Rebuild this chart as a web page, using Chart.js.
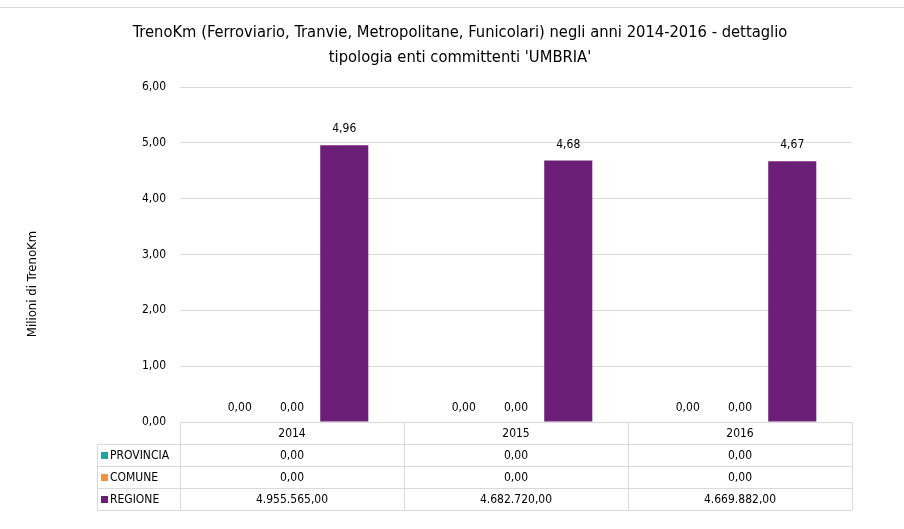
<!DOCTYPE html>
<html>
<head>
<meta charset="utf-8">
<script src="https://cdn.jsdelivr.net/npm/chart.js@4.4.0/dist/chart.umd.min.js"></script>
<style>
  html, body { margin: 0; padding: 0; background: #fff; }
  #wrap { width: 904px; height: 529px; position: relative; }
</style>
</head>
<body>
<div id="wrap"><canvas id="grafico" width="904" height="529"></canvas></div>
<script>
// dati
var anni = ['2014', '2015', '2016'];
var serie = ['PROVINCIA', 'COMUNE', 'REGIONE'];
var provincia = [0, 0, 0];
var comune = [0, 0, 0];
var regione = [4955565, 4682720, 4669882];
var tickY = ['0,00', '1,00', '2,00', '3,00', '4,00', '5,00', '6,00'];
var colori = ['#1fa5a1', '#f7923a', '#6c1f77'];

var FONT = '"Liberation Sans Narrow", "DejaVu Sans Condensed", sans-serif';

function formatta(n, dec) {
  var s = n.toFixed(dec);
  var p = s.split('.');
  var intero = p[0].replace(/\B(?=(\d{3})+(?!\d))/g, '.');
  return dec > 0 ? intero + ',' + p[1] : intero;
}

var valori = [provincia, comune, regione];

var pluginTabella = {
  id: 'tabella',
  afterDraw: function (chart) {
    var ctx = chart.ctx;
    var area = chart.chartArea;
    var x = chart.scales.x;
    var rowH = 22;
    var leftCol = area.left - 83;
    ctx.save();

    // titolo
    ctx.fillStyle = '#000';
    ctx.textAlign = 'center';
    ctx.textBaseline = 'middle';
    ctx.font = '16.4px ' + FONT;
    ctx.fillText("TrenoKm (Ferroviario, Tranvie, Metropolitane, Funicolari) negli anni 2014-2016 - dettaglio", 460, 33);
    ctx.fillText("tipologia enti committenti 'UMBRIA'", 460, 58);

    // titolo asse y
    ctx.save();
    ctx.translate(33, 284);
    ctx.rotate(-Math.PI / 2);
    ctx.font = '13px ' + FONT;
    ctx.fillText('Milioni di TrenoKm', 0, 0);
    ctx.restore();

    // bordo superiore
    ctx.strokeStyle = '#d9d9d9';
    ctx.lineWidth = 1;
    ctx.beginPath();
    ctx.moveTo(0, 7.5);
    ctx.lineTo(904, 7.5);
    ctx.stroke();

    // etichette dati
    ctx.font = '12px ' + FONT;
    ctx.textBaseline = 'bottom';
    chart.data.datasets.forEach(function (ds, i) {
      var meta = chart.getDatasetMeta(i);
      meta.data.forEach(function (bar, j) {
        ctx.fillText(formatta(ds.data[j], 2), bar.x, bar.y - (ds.data[j] > 0 ? 10 : 8));
      });
    });

    // griglia tabella
    var bordi = [area.left];
    for (var k = 0; k < anni.length; k++) {
      bordi.push((x.getPixelForValue(k) + (k < anni.length - 1 ? x.getPixelForValue(k + 1) : x.right + (x.right - x.getPixelForValue(k)))) / 2);
    }
    bordi[bordi.length - 1] = area.right;
    var top = area.bottom;
    ctx.strokeStyle = '#d9d9d9';
    ctx.beginPath();
    for (var r = 1; r <= serie.length + 1; r++) {
      var yy = Math.round(top + r * rowH) + 0.5;
      ctx.moveTo(leftCol, yy);
      ctx.lineTo(area.right, yy);
    }
    bordi.forEach(function (bx) {
      var xx = Math.round(bx) + 0.5;
      ctx.moveTo(xx, top);
      ctx.lineTo(xx, top + (serie.length + 1) * rowH);
    });
    ctx.moveTo(leftCol + 0.5, top + rowH);
    ctx.lineTo(leftCol + 0.5, top + (serie.length + 1) * rowH);
    ctx.stroke();

    // intestazioni anni
    ctx.textBaseline = 'middle';
    ctx.textAlign = 'center';
    ctx.fillStyle = '#000';
    anni.forEach(function (a, k) {
      ctx.fillText(a, x.getPixelForValue(k), top + rowH / 2 + 1);
    });
    // righe serie
    serie.forEach(function (s, i) {
      var cy = top + rowH * (i + 1) + rowH / 2 + 1;
      ctx.fillStyle = colori[i];
      ctx.fillRect(leftCol + 4, cy - 4, 7, 7);
      ctx.fillStyle = '#000';
      ctx.textAlign = 'left';
      ctx.fillText(s, leftCol + 13, cy);
      ctx.textAlign = 'center';
      valori[i].forEach(function (v, k) {
        ctx.fillText(formatta(v, 2), x.getPixelForValue(k), cy);
      });
    });
    ctx.restore();
  }
};

var ctx = document.getElementById('grafico').getContext('2d');
window.grafica = new Chart(ctx, {
  type: 'bar',
  data: {
    labels: anni,
    datasets: serie.map(function (s, i) {
      return {
        label: s,
        data: valori[i].map(function (v) { return v / 1000000; }),
        backgroundColor: colori[i],
        borderWidth: 0,
        categoryPercentage: 0.7,
        barPercentage: 0.92
      };
    })
  },
  options: {
    responsive: false,
    animation: false,
    layout: { padding: { top: 87, bottom: 107, right: 52, left: 0 } },
    plugins: {
      legend: { display: false },
      title: { display: false },
      tooltip: { enabled: false }
    },
    scales: {
      x: { display: false },
      y: {
        min: 0,
        max: 6,
        afterFit: function (scale) { scale.width = 180; },
        ticks: {
          stepSize: 1,
          color: '#000',
          padding: 14,
          font: { family: FONT, size: 12 },
          callback: function (v, i) { return tickY[i]; }
        },
        grid: { color: '#d9d9d9', drawTicks: false },
        border: { display: false }
      }
    }
  },
  plugins: [pluginTabella]
});
</script>
</body>
</html>
